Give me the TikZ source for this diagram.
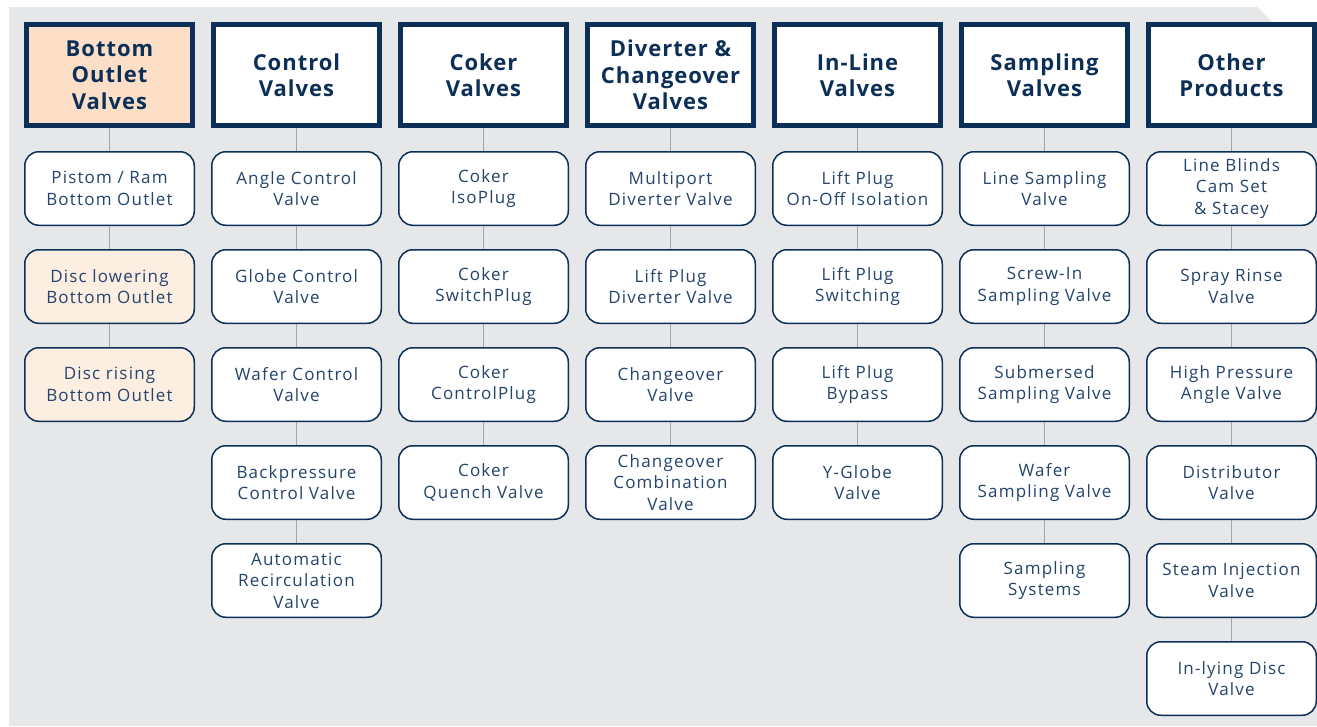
\documentclass[tikz,border=0pt]{standalone}
\usepackage{fontspec}
\setmainfont{Open Sans}
\newfontfamily\headfont[LetterSpace=4.5]{Open Sans}
\newfontfamily\itemfont[LetterSpace=7]{Open Sans}
\usepackage{tikz}
\usetikzlibrary{positioning}
\definecolor{navy}{HTML}{0B2F56}
\definecolor{subtext}{HTML}{24446C}
\definecolor{bggray}{HTML}{E6E7E9}
\definecolor{linegray}{HTML}{A3A5A8}
\definecolor{peach}{HTML}{FDDFC7}
\definecolor{lightpeach}{HTML}{FDEEE2}
\tikzset{
  head/.style={draw=navy, line width=5pt, fill=white, text=navy, align=center,
    minimum width=166pt, minimum height=101pt, inner sep=0pt,
    font=\fontsize{22}{26.5}\selectfont\headfont\bfseries},
  item/.style={draw=navy, line width=1.5pt, fill=white, text=subtext, align=center,
    rounded corners=14pt, minimum width=169.5pt, minimum height=73.5pt, inner sep=0pt,
    font=\fontsize{17}{21.5}\selectfont\itemfont},
  link/.style={linegray, line width=1.2pt},
  node distance=23pt
}
\begin{document}
\begin{tikzpicture}[x=1pt,y=-1pt]
\useasboundingbox (0,0) rectangle (1317,726);
\fill[bggray] (9,7) -- (1257,7) -- (1317,67) -- (1317,726) -- (9,726) -- cycle;

% column headers
\node[head,fill=peach] (bov) at (109.5,75) {Bottom\\Outlet\\Valves};
\node[head] (cv) at (296.5,75) {Control\\Valves};
\node[head] (kv) at (483.5,75) {Coker\\Valves};
\node[head] (dv) at (670.5,75) {Diverter \&\\Changeover\\Valves};
\node[head] (iv) at (857.5,75) {In-Line\\Valves};
\node[head] (sv) at (1044.5,75) {Sampling\\Valves};
\node[head] (op) at (1231.5,75) {Other\\Products};

% bottom outlet
\node[item,below=of bov] (bov1) {Pistom / Ram\\Bottom Outlet};
\node[item,fill=lightpeach,below=of bov1] (bov2) {Disc lowering\\Bottom Outlet};
\node[item,fill=lightpeach,below=of bov2] (bov3) {Disc rising\\Bottom Outlet};

% control
\node[item,below=of cv] (cv1) {Angle Control\\Valve};
\node[item,below=of cv1] (cv2) {Globe Control\\Valve};
\node[item,below=of cv2] (cv3) {Wafer Control\\Valve};
\node[item,below=of cv3] (cv4) {Backpressure\\Control Valve};
\node[item,below=of cv4] (cv5) {Automatic\\Recirculation\\Valve};

% coker
\node[item,below=of kv] (kv1) {Coker\\IsoPlug};
\node[item,below=of kv1] (kv2) {Coker\\SwitchPlug};
\node[item,below=of kv2] (kv3) {Coker\\ControlPlug};
\node[item,below=of kv3] (kv4) {Coker\\Quench Valve};

% diverter
\node[item,below=of dv] (dv1) {Multiport\\Diverter Valve};
\node[item,below=of dv1] (dv2) {Lift Plug\\Diverter Valve};
\node[item,below=of dv2] (dv3) {Changeover\\Valve};
\node[item,below=of dv3] (dv4) {Changeover\\Combination\\Valve};

% in-line
\node[item,below=of iv] (iv1) {Lift Plug\\On-Off Isolation};
\node[item,below=of iv1] (iv2) {Lift Plug\\Switching};
\node[item,below=of iv2] (iv3) {Lift Plug\\Bypass};
\node[item,below=of iv3] (iv4) {Y-Globe\\Valve};

% sampling
\node[item,below=of sv] (sv1) {Line Sampling\\Valve};
\node[item,below=of sv1] (sv2) {Screw-In\\Sampling Valve};
\node[item,below=of sv2] (sv3) {Submersed\\Sampling Valve};
\node[item,below=of sv3] (sv4) {Wafer\\Sampling Valve};
\node[item,below=of sv4] (sv5) {Sampling\\Systems};

% other
\node[item,below=of op] (op1) {Line Blinds\\Cam Set\\\& Stacey};
\node[item,below=of op1] (op2) {Spray Rinse\\Valve};
\node[item,below=of op2] (op3) {High Pressure\\Angle Valve};
\node[item,below=of op3] (op4) {Distributor\\Valve};
\node[item,below=of op4] (op5) {Steam Injection\\Valve};
\node[item,below=of op5] (op6) {In-lying Disc\\Valve};

\foreach \a/\b in {bov/bov1,bov1/bov2,bov2/bov3,
                   cv/cv1,cv1/cv2,cv2/cv3,cv3/cv4,cv4/cv5,
                   kv/kv1,kv1/kv2,kv2/kv3,kv3/kv4,
                   dv/dv1,dv1/dv2,dv2/dv3,dv3/dv4,
                   iv/iv1,iv1/iv2,iv2/iv3,iv3/iv4,
                   sv/sv1,sv1/sv2,sv2/sv3,sv3/sv4,sv4/sv5,
                   op/op1,op1/op2,op2/op3,op3/op4,op4/op5,op5/op6}
  \draw[link] (\a) -- (\b);
\end{tikzpicture}
\end{document}
